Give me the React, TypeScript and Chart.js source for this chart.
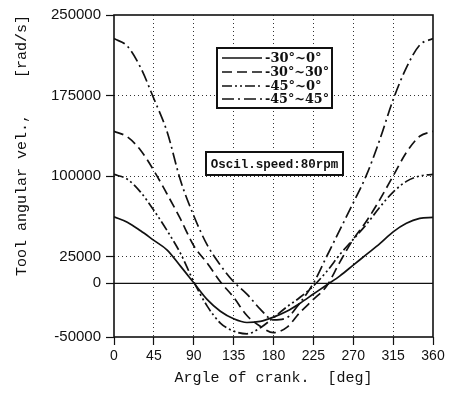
import React, { useEffect, useRef } from 'react';
import { Chart, registerables } from 'chart.js';
Chart.register(...registerables);

// crank angle [deg]
const angles = [0, 15, 30, 45, 60, 75, 90, 105, 120, 135, 150, 165, 180, 195, 210, 225, 240, 255, 270, 285, 300, 315, 330, 345, 360];
// tool angular velocity [rad/s]
const vel30_0 = [62000, 57000, 49000, 40000, 31000, 16000, 500, -15000, -26000, -33000, -36500, -35500, -31500, -26000, -18500, -10000, -1500, 7000, 17000, 27000, 37000, 48000, 56000, 60500, 61500];
const vel30_30 = [141600, 136500, 124000, 105000, 83000, 60000, 35000, 19000, 1500, -13000, -30000, -40000, -46000, -41000, -27000, -15000, -2500, 20000, 41000, 58000, 78000, 100000, 122000, 137000, 141600];
const vel45_0 = [101500, 97000, 85000, 68000, 49000, 28000, 1500, -21000, -37000, -44500, -47000, -41500, -32000, -22000, -13000, -2500, 11000, 27000, 41000, 55000, 71000, 85000, 95000, 100000, 101500];
const vel45_45 = [228000, 221000, 201000, 172000, 141000, 96000, 63000, 36000, 17000, 1500, -10000, -24000, -34000, -32000, -18000, 0, 25000, 50000, 75000, 101000, 134000, 171000, 201000, 222000, 228000];

const seriesLabels = ['-30°~0°', '-30°~30°', '-45°~0°', '-45°~45°'];
const xTickStep = 45;
const yTickValues = [-50000, 0, 25000, 100000, 175000, 250000];
const xTitle = 'Argle of crank.  [deg]';
const yTitle = 'Tool angular vel.,    [rad/s]';
const noteText = 'Oscil.speed:80rpm';

export default function App() {
  const ref = useRef<HTMLCanvasElement>(null);
  useEffect(() => {
    document.body.style.margin = '0';
    const canvas = ref.current!;
    const dashes: number[][] = [[], [10, 5], [10, 3, 2, 3, 2, 3], [12, 4, 2, 4]];
    const series = [vel30_0, vel30_30, vel45_0, vel45_45];
    const datasets = series.map((s, i) => ({
      label: seriesLabels[i],
      data: angles.map((a, j) => ({ x: a, y: s[j] })),
      borderColor: '#111',
      borderWidth: 1.7,
      borderDash: dashes[i],
      pointRadius: 0,
      cubicInterpolationMode: 'monotone' as const,
      fill: false,
    }));

    const overlay = {
      id: 'overlay',
      beforeDatasetsDraw(chart: any) {
        const { ctx, chartArea } = chart;
        const y0 = chart.scales.y.getPixelForValue(0);
        ctx.save();
        ctx.strokeStyle = '#111';
        ctx.lineWidth = 1.2;
        ctx.setLineDash([]);
        ctx.beginPath();
        ctx.moveTo(chartArea.left, y0);
        ctx.lineTo(chartArea.right, y0);
        ctx.stroke();
        ctx.restore();
      },
      afterDraw(chart: any) {
        const { ctx, chartArea } = chart;
        ctx.save();
        ctx.setLineDash([]);
        ctx.strokeStyle = '#111';
        ctx.lineWidth = 1.6;
        ctx.strokeRect(chartArea.left, chartArea.top, chartArea.right - chartArea.left, chartArea.bottom - chartArea.top);

        // legend box
        const lx = 217, ly = 48, lw = 115, lh = 60;
        ctx.fillStyle = '#fff';
        ctx.fillRect(lx, ly, lw, lh);
        ctx.lineWidth = 2;
        ctx.strokeRect(lx, ly, lw, lh);
        const rows = [58, 72, 86, 99];
        ctx.font = 'bold 13px "DejaVu Serif"';
        ctx.textBaseline = 'middle';
        ctx.textAlign = 'left';
        ctx.fillStyle = '#111';
        rows.forEach((ry, i) => {
          ctx.save();
          ctx.lineWidth = 1.7;
          ctx.setLineDash(dashes[i]);
          ctx.beginPath();
          ctx.moveTo(222, ry);
          ctx.lineTo(262, ry);
          ctx.stroke();
          ctx.restore();
          ctx.fillText(seriesLabels[i], 265, ry + 1, 64);
        });

        // note box
        const nx = 206, ny = 152, nw = 137, nh = 23;
        ctx.fillStyle = '#fff';
        ctx.fillRect(nx, ny, nw, nh);
        ctx.lineWidth = 2;
        ctx.strokeRect(nx, ny, nw, nh);
        ctx.fillStyle = '#111';
        ctx.font = 'bold 12.5px "Liberation Mono"';
        ctx.textAlign = 'center';
        ctx.fillText(noteText, nx + nw / 2, ny + nh / 2 + 1);
        ctx.restore();
      },
    };

    const gridColor = (c: any) => {
      const v = c.tick ? c.tick.value : null;
      const sc = c.scale;
      if (v === null) return 'rgba(0,0,0,0)';
      if (v === sc.min || v === sc.max || (sc.axis === 'y' && v === 0)) return 'rgba(0,0,0,0)';
      return '#333';
    };

    const chart = new Chart(canvas, {
      type: 'line',
      data: { datasets },
      options: {
        responsive: false,
        animation: false,
        devicePixelRatio: 1,
        layout: { padding: { top: 15, right: 23, left: 0, bottom: 0 } },
        plugins: { legend: { display: false }, tooltip: { enabled: false } },
        scales: {
          x: {
            type: 'linear',
            min: 0,
            max: 360,
            ticks: { stepSize: xTickStep, color: '#111', padding: 3, font: { family: 'Liberation Sans', size: 14 }, maxRotation: 0, callback: (v: any) => String(v) },
            grid: { color: gridColor, lineWidth: 1, tickLength: 8, tickColor: '#111', tickWidth: 1.2 },
            border: { display: false, dash: [1, 3] },
            title: { display: true, text: xTitle, color: '#111', font: { family: 'Liberation Mono', size: 15 }, padding: { top: 0, bottom: 11 } },
            afterFit: (s: any) => { s.height = 61; },
          },
          y: {
            type: 'linear',
            min: -50000,
            max: 250000,
            afterBuildTicks: (s: any) => { s.ticks = yTickValues.map((v) => ({ value: v })); },
            ticks: { color: '#111', padding: 5, font: { family: 'Liberation Sans', size: 15 }, callback: (v: any) => String(v) },
            grid: { color: gridColor, lineWidth: 1, tickLength: 8, tickColor: '#111', tickWidth: 1.2 },
            border: { display: false, dash: [1, 3] },
            title: { display: true, text: yTitle, align: 'end', color: '#111', font: { family: 'Liberation Mono', size: 15 }, padding: { top: 13, bottom: 0 } },
            afterFit: (s: any) => { s.width = 114; },
          },
        },
      },
      plugins: [overlay],
    } as any);
    return () => chart.destroy();
  }, []);
  return (
    <div style={{ width: 456, height: 398 }}>
      <canvas ref={ref} width={456} height={398} style={{ display: 'block' }} />
    </div>
  );
}
